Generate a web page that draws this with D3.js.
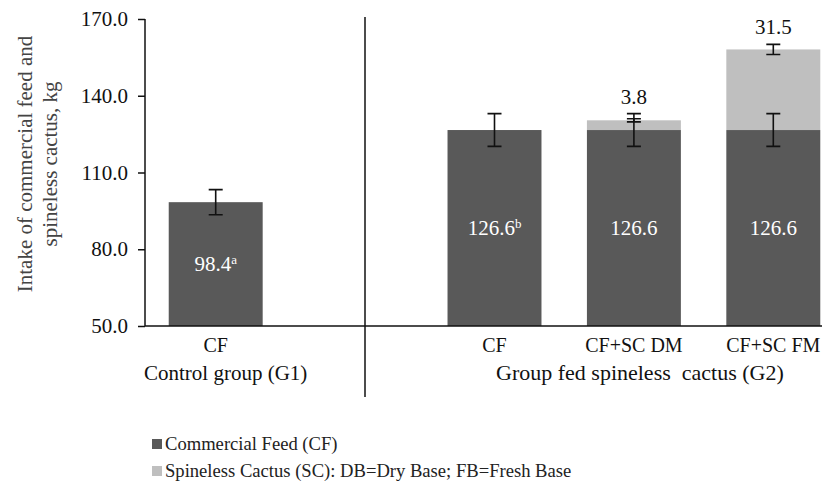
<!DOCTYPE html>
<html>
<head>
<meta charset="utf-8">
<script src="https://cdn.jsdelivr.net/npm/d3@7"></script>
<style>
  body { margin: 0; background: #fff; }
  svg { display: block; font-family: "Liberation Serif", "Times New Roman", serif; }
</style>
</head>
<body>
<div id="chart"></div>
<script>
// data
const categories = ["CF", "", "CF", "CF+SC DM", "CF+SC FM"]
const cfValues = [98.4, null, 126.6, 126.6, 126.6]
const cfErrors = [4.9, null, 6.4, 6.4, 6.4]
const scValues = [0, null, 0, 3.8, 31.5]
const scErrors = [0, null, 0, 0.6, 2.0]
const cfLabels = ["98.4", "", "126.6", "126.6", "126.6"]
const cfSupers = ["a", "", "b", "", ""]
const groupNames = ["Control group (G1)", "Group fed spineless  cactus (G2)"]
const groupMembers = [[0], [2, 3, 4]]
const yTicks = [50, 80, 110, 140, 170]
const legendLabels = ["Commercial Feed (CF)", "Spineless Cactus (SC): DB=Dry Base; FB=Fresh Base"]
const colors = ["#595959", "#bfbfbf"]

const width = 832, height = 484
const axisX = 145, plotTop = 19, plotBottom = 326
const dividerX = 365

const svg = d3.select("#chart")
              .append("svg")
              .attr("width", width)
              .attr("height", height)

const yScale = d3.scaleLinear()
                 .domain([50, 170])
                 .range([plotBottom, plotTop])

const xScale = d3.scaleBand()
                 .domain(d3.range(categories.length))
                 .range([146, 843])
                 .paddingInner(0.326)
                 .paddingOuter(0.163)

const bw = xScale.bandwidth()
const cx = i => xScale(i) + bw / 2
const idx = d3.range(categories.length).filter(i => cfValues[i] !== null)

// bars: commercial feed
svg.append("g")
   .selectAll("rect")
   .data(idx)
   .join("rect")
   .attr("x", i => xScale(i))
   .attr("width", bw)
   .attr("y", i => yScale(cfValues[i]))
   .attr("height", i => yScale(50) - yScale(cfValues[i]))
   .attr("fill", colors[0])

// bars: spineless cactus stacked on top
svg.append("g")
   .selectAll("rect")
   .data(idx.filter(i => scValues[i] > 0))
   .join("rect")
   .attr("x", i => xScale(i))
   .attr("width", bw)
   .attr("y", i => yScale(cfValues[i] + scValues[i]))
   .attr("height", i => yScale(cfValues[i]) - yScale(cfValues[i] + scValues[i]))
   .attr("fill", colors[1])

// error bars
const errs = []
idx.forEach(i => {
  errs.push({ i, v: cfValues[i], e: cfErrors[i] })
  if (scValues[i] > 0) errs.push({ i, v: cfValues[i] + scValues[i], e: scErrors[i] })
})
const eg = svg.append("g")
              .attr("stroke", "#111")
              .attr("stroke-width", 1.6)
eg.selectAll("path")
  .data(errs)
  .join("path")
  .attr("fill", "none")
  .attr("d", d => {
    const x = cx(d.i), t = yScale(d.v + d.e), b = yScale(d.v - d.e)
    return `M${x - 7},${t}H${x + 7}M${x},${t}V${b}M${x - 7},${b}H${x + 7}`
  })

// value labels inside the commercial feed bars
const inner = svg.append("g")
                 .selectAll("text")
                 .data(idx)
                 .join("text")
                 .attr("x", i => cx(i))
                 .attr("y", i => (yScale(cfValues[i]) + yScale(50)) / 2)
                 .attr("dy", "0.35em")
                 .attr("text-anchor", "middle")
                 .attr("fill", "#fff")
                 .attr("font-size", 21)
inner.append("tspan").text(i => cfLabels[i])
inner.append("tspan")
     .attr("font-size", 13)
     .attr("dy", "-0.6em")
     .text(i => cfSupers[i])

// labels above the cactus segments
svg.append("g")
   .selectAll("text")
   .data(idx.filter(i => scValues[i] > 0))
   .join("text")
   .attr("x", i => cx(i))
   .attr("y", i => Math.min(yScale(cfValues[i] + cfErrors[i]), yScale(cfValues[i] + scValues[i] + scErrors[i])) - 10)
   .attr("text-anchor", "middle")
   .attr("fill", "#111")
   .attr("font-size", 21)
   .text(i => d3.format(".1f")(scValues[i]))

// y axis
const yAxis = d3.axisLeft(yScale)
                .tickValues(yTicks)
                .tickFormat(d3.format(".1f"))
                .tickSize(7)
                .tickPadding(10)
const ya = svg.append("g")
              .attr("transform", "translate(" + axisX + ",0)")
              .call(yAxis)
ya.select(".domain").remove()
ya.selectAll("line").attr("stroke", "#111").attr("stroke-width", 1.5)
ya.selectAll("text")
  .attr("font-family", "Liberation Serif")
  .attr("font-size", 21)
  .attr("fill", "#111")
ya.append("line")
  .attr("y1", plotTop)
  .attr("y2", plotBottom)
  .attr("stroke", "#111")
  .attr("stroke-width", 1.5)

// base line and group divider
svg.append("line")
   .attr("x1", axisX).attr("x2", 822)
   .attr("y1", plotBottom).attr("y2", plotBottom)
   .attr("stroke", "#111").attr("stroke-width", 1.5)
svg.append("line")
   .attr("x1", dividerX).attr("x2", dividerX)
   .attr("y1", 17).attr("y2", 397)
   .attr("stroke", "#111").attr("stroke-width", 1.5)

// category labels
svg.append("g")
   .selectAll("text")
   .data(idx)
   .join("text")
   .attr("x", i => cx(i))
   .attr("y", 352)
   .attr("text-anchor", "middle")
   .attr("fill", "#111")
   .attr("font-size", 20)
   .text(i => categories[i])

svg.append("g")
   .selectAll("text")
   .data(groupNames)
   .join("text")
   .attr("x", (d, g) => d3.mean(groupMembers[g], cx) + (g === 0 ? 10 : 6))
   .attr("y", 380)
   .attr("text-anchor", "middle")
   .attr("fill", "#111")
   .attr("font-size", (d, g) => g === 0 ? 21 : 22)
   .style("white-space", "pre")
   .text(d => d)

// y axis title
const title = svg.append("text")
                 .attr("transform", "translate(32,164) rotate(-90)")
                 .attr("text-anchor", "middle")
                 .attr("fill", "#444")
                 .attr("font-size", 21)
title.append("tspan").attr("x", 0).attr("y", 0).text("Intake of commercial feed and")
title.append("tspan").attr("x", 0).attr("y", 25).text("spineless cactus, kg")

// legend
const lg = svg.append("g")
              .selectAll("g")
              .data(legendLabels)
              .join("g")
              .attr("transform", (d, i) => "translate(152," + (439 + i * 27) + ")")
lg.append("rect")
  .attr("width", 10).attr("height", 10)
  .attr("fill", (d, i) => colors[i])
lg.append("text")
  .attr("x", 13)
  .attr("y", 11)
  .attr("fill", "#222")
  .attr("font-size", 18.6)
  .text(d => d)
</script>
</body>
</html>
